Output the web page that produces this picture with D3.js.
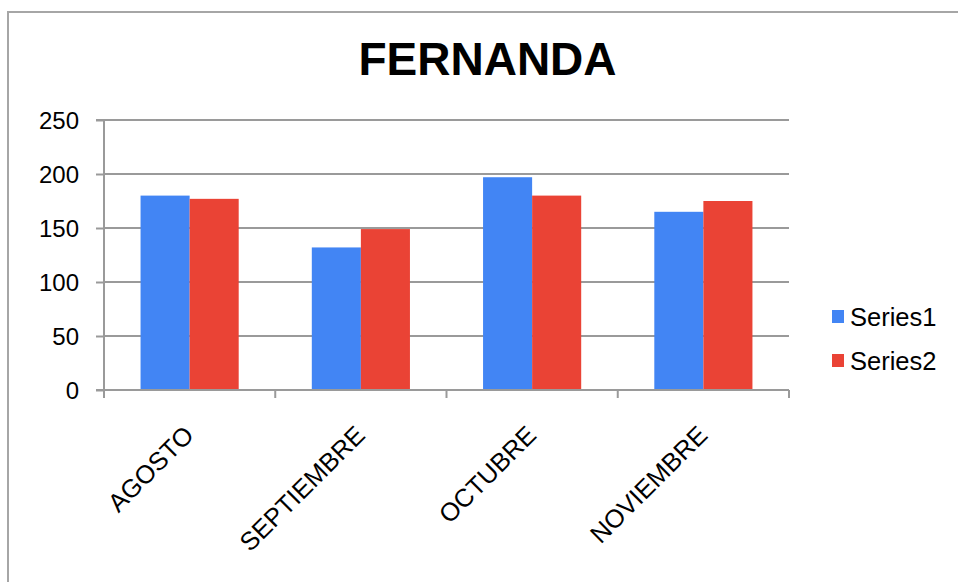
<!DOCTYPE html>
<html><head><meta charset="utf-8">
<script src="https://cdn.jsdelivr.net/npm/d3@7"></script>
<style>html,body{margin:0;padding:0;background:#fff;}svg{display:block;}</style>
</head><body>
<script>
const title = "FERNANDA";
const categories = ["AGOSTO", "SEPTIEMBRE", "OCTUBRE", "NOVIEMBRE"];
const seriesNames = ["Series1", "Series2"];
const series1 = [180, 132, 197, 165];
const series2 = [177, 149, 180, 175];
const yTicks = [0, 50, 100, 150, 200, 250];
const colors = ["#4285F4", "#EA4335"];

const W = 958, H = 582;
const svg = d3.select("body").append("svg").attr("width", W).attr("height", H);
const font = "'Liberation Sans', Arial, sans-serif";

// outer frame
svg.append("rect").attr("x", 8).attr("y", 12).attr("width", W + 10).attr("height", H + 10)
  .attr("fill", "#fff").attr("stroke", "#a6a6a6").attr("stroke-width", 2);

svg.append("text").attr("x", 487.5).attr("y", 75).attr("text-anchor", "middle")
  .attr("font-family", font).attr("font-weight", "bold").attr("font-size", 46)
  .attr("fill", "#000").text(title);

const L = 104, R = 789, T = 120, B = 390;
const x0 = d3.scaleBand().domain(categories).range([L, R]).padding(0);
const x1 = d3.scaleBand().domain(seriesNames).range([0, x0.bandwidth()]).paddingInner(0).paddingOuter(0.745);
const y = d3.scaleLinear().domain([0, 250]).range([B, T]);

// gridlines
svg.append("g").selectAll("line").data(yTicks.filter(d => d > 0)).join("line")
  .attr("x1", L).attr("x2", R).attr("y1", d => y(d)).attr("y2", d => y(d))
  .attr("stroke", "#9a9a9a").attr("stroke-width", 2);

// bars
const data = categories.map((c, i) => ({c, vals: [series1[i], series2[i]]}));
const g = svg.append("g");
data.forEach(d => {
  d.vals.forEach((v, j) => {
    g.append("rect").attr("x", x0(d.c) + x1(seriesNames[j])).attr("width", x1.bandwidth())
      .attr("y", y(v)).attr("height", y(0) - y(v)).attr("fill", colors[j]);
  });
});

// y axis
const yAxis = d3.axisLeft(y).tickValues(yTicks).tickSize(8).tickPadding(17);
const ya = svg.append("g").attr("transform", `translate(${L},0)`).call(yAxis);
ya.select(".domain").attr("stroke", "#9a9a9a").attr("stroke-width", 2).attr("d", `M-8,${T}H0V${B + 7}`);
ya.selectAll(".tick line").attr("stroke", "#9a9a9a").attr("stroke-width", 2);
ya.selectAll("text").attr("font-family", font).attr("font-size", 24).attr("fill", "#000").attr("dy", "0.36em");

// x axis
const xa = svg.append("g").attr("transform", `translate(0,${B})`);
xa.append("line").attr("x1", L - 8).attr("x2", R).attr("y1", 0).attr("y2", 0)
  .attr("stroke", "#9a9a9a").attr("stroke-width", 2);
const bounds = categories.map(c => x0(c)).concat([R]);
xa.selectAll("line.tk").data(bounds).join("line").attr("class", "tk")
  .attr("x1", d => d).attr("x2", d => d).attr("y1", 0).attr("y2", 8)
  .attr("stroke", "#9a9a9a").attr("stroke-width", 2);
xa.selectAll("text").data(categories).join("text")
  .attr("transform", d => `translate(${x0(d) + x0.bandwidth() / 2 - 7},${34}) rotate(-45)`)
  .attr("text-anchor", "end").attr("dy", "0.7em")
  .attr("font-family", font).attr("font-size", 25.5).attr("fill", "#000").text(d => d);

// legend
const lg = svg.append("g");
seriesNames.forEach((s, i) => {
  const yy = 317 + i * 44;
  lg.append("rect").attr("x", 832).attr("y", yy - 7).attr("width", 12).attr("height", 13).attr("fill", colors[i]);
  lg.append("text").attr("x", 850).attr("y", yy).attr("dy", "0.36em")
    .attr("font-family", font).attr("font-size", 25.5).attr("fill", "#000").text(s);
});
</script>
</body></html>
